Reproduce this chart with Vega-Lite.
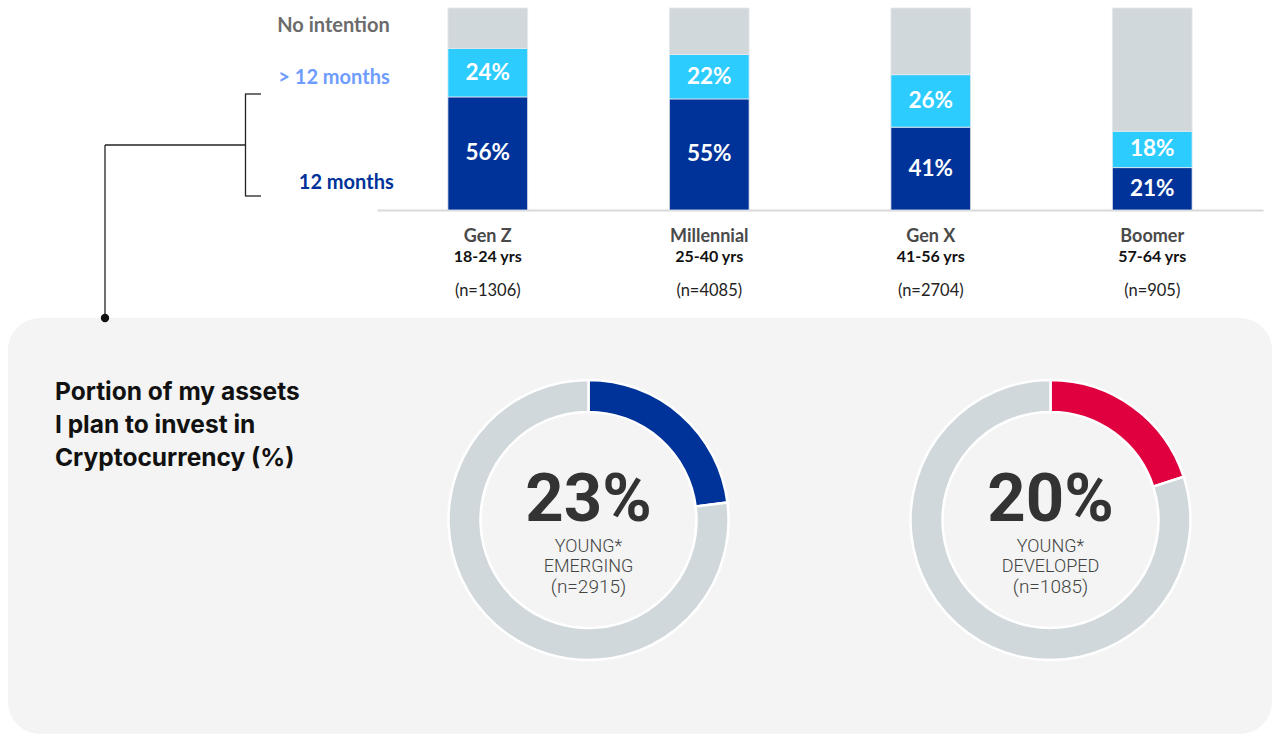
{
 "$schema": "https://vega.github.io/schema/vega-lite/v6.json",
 "width": 1273, "height": 735,
 "autosize": {"type": "fit", "contains": "padding"},
 "padding": 0,
 "background": "#ffffff",
 "config": {"view": {"stroke": null}, "font": "Lato"},
 "datasets": {
  "bars": [
   {"gen":"Gen Z","cat":"12 months","share":0.56,"order":1},
   {"gen":"Gen Z","cat":"> 12 months","share":0.24,"order":2},
   {"gen":"Gen Z","cat":"No intention","share":0.20,"order":3},
   {"gen":"Millennial","cat":"12 months","share":0.55,"order":1},
   {"gen":"Millennial","cat":"> 12 months","share":0.22,"order":2},
   {"gen":"Millennial","cat":"No intention","share":0.23,"order":3},
   {"gen":"Gen X","cat":"12 months","share":0.41,"order":1},
   {"gen":"Gen X","cat":"> 12 months","share":0.26,"order":2},
   {"gen":"Gen X","cat":"No intention","share":0.33,"order":3},
   {"gen":"Boomer","cat":"12 months","share":0.21,"order":1},
   {"gen":"Boomer","cat":"> 12 months","share":0.18,"order":2},
   {"gen":"Boomer","cat":"No intention","share":0.61,"order":3}
  ],
  "gens": [
   {"gen":"Gen Z","age":"18-24 yrs","n":"(n=1306)"},
   {"gen":"Millennial","age":"25-40 yrs","n":"(n=4085)"},
   {"gen":"Gen X","age":"41-56 yrs","n":"(n=2704)"},
   {"gen":"Boomer","age":"57-64 yrs","n":"(n=905)"}
  ],
  "donuts": [
   {"group":"Young Emerging","part":"emerging","share":0.23,"order":1},
   {"group":"Young Emerging","part":"rest","share":0.77,"order":2},
   {"group":"Young Developed","part":"developed","share":0.20,"order":1},
   {"group":"Young Developed","part":"rest","share":0.80,"order":2}
  ],
  "donutLabels": [
   {"group":"Young Emerging","kind":"YOUNG*","market":"EMERGING","n":"(n=2915)"},
   {"group":"Young Developed","kind":"YOUNG*","market":"DEVELOPED","n":"(n=1085)"}
  ]
 },
 "layer": [
  {
   "data": {"values": [{}]},
   "mark": {"type": "rect", "fill": "#f3f4f3", "cornerRadius": 32},
   "encoding": {"x": {"value": 8}, "x2": {"value": 1272}, "y": {"value": 318}, "y2": {"value": 734}}
  },
  {
   "data": {"name": "bars"},
   "encoding": {
    "x": {"field": "gen", "type": "nominal", "sort": ["Gen Z","Millennial","Gen X","Boomer"],
          "scale": {"range": [377, 1263], "paddingInner": 0.64, "paddingOuter": 0.32},
          "axis": {"title": null, "labels": false, "ticks": false, "grid": false, "domainColor": "#d9d9d9", "domainWidth": 2, "offset": -525}}
   },
   "layer": [
    {
     "mark": {"type": "bar", "stroke": "#e6e9ec", "strokeWidth": 0.8},
     "encoding": {
      "y": {"field": "share", "type": "quantitative", "stack": "zero", "scale": {"domain": [0, 1], "range": [210, 8]}, "axis": null},
      "color": {"field": "cat", "type": "nominal", "scale": {"domain": ["12 months","> 12 months","No intention"], "range": ["#003399","#2dccff","#d1d8dc"]}, "legend": null},
      "order": {"field": "order", "type": "quantitative"}
     }
    },
    {
     "transform": [
      {"filter": "datum.cat != 'No intention'"},
      {"stack": "share", "groupby": ["gen"], "sort": [{"field": "order", "order": "ascending"}], "as": ["y0", "y1"]},
      {"fold": ["y0", "y1"], "as": ["edge", "ypos"]},
      {"aggregate": [{"op": "mean", "field": "ypos", "as": "mid"}], "groupby": ["gen", "cat", "share"]}
     ],
     "mark": {"type": "text", "color": "#ffffff", "fontSize": 22.5, "fontWeight": "bold", "baseline": "middle"},
     "encoding": {
      "y": {"field": "mid", "type": "quantitative"},
      "text": {"field": "share", "type": "quantitative", "format": ".0%"}
     }
    },
    {
     "data": {"name": "gens"},
     "mark": {"type": "text", "fontSize": 18, "fontWeight": "bold", "color": "#4a4a4a", "baseline": "middle", "dy": 27},
     "encoding": {"y": {"datum": 0, "type": "quantitative"}, "text": {"field": "gen"}}
    },
    {
     "data": {"name": "gens"},
     "mark": {"type": "text", "fontSize": 16, "fontWeight": "bold", "color": "#111111", "baseline": "middle", "dy": 47},
     "encoding": {"y": {"datum": 0, "type": "quantitative"}, "text": {"field": "age"}}
    },
    {
     "data": {"name": "gens"},
     "mark": {"type": "text", "fontSize": 16.5, "fontWeight": "normal", "color": "#222222", "baseline": "middle", "dy": 81},
     "encoding": {"y": {"datum": 0, "type": "quantitative"}, "text": {"field": "n"}}
    },
    {
     "data": {"values": [{}]},
     "mark": {"type": "text", "text": "No intention", "align": "right", "baseline": "middle", "fontSize": 20, "fontWeight": "bold", "color": "#6b6b6b", "dx": -98},
     "encoding": {"x": {"datum": "Gen Z"}, "y": {"datum": 0.911, "type": "quantitative"}}
    },
    {
     "data": {"values": [{}]},
     "mark": {"type": "text", "text": "> 12 months", "align": "right", "baseline": "middle", "fontSize": 20, "fontWeight": "bold", "color": "#6e9cff", "dx": -98},
     "encoding": {"x": {"datum": "Gen Z"}, "y": {"datum": 0.653, "type": "quantitative"}}
    },
    {
     "data": {"values": [{}]},
     "mark": {"type": "text", "text": "12 months", "align": "right", "baseline": "middle", "fontSize": 20, "fontWeight": "bold", "color": "#003399", "dx": -94},
     "encoding": {"x": {"datum": "Gen Z"}, "y": {"datum": 0.134, "type": "quantitative"}}
    }
   ]
  },
  {
   "layer": [
    {
     "data": {"name": "donuts"},
     "transform": [{"stack": "share", "groupby": ["group"], "sort": [{"field": "order", "order": "ascending"}], "as": ["t0", "t1"]}],
     "mark": {"type": "arc", "outerRadius": 140, "innerRadius": 108, "stroke": "#ffffff", "strokeWidth": 2.5},
     "encoding": {
      "x": {"field": "group", "type": "nominal", "sort": ["Young Emerging","Young Developed"], "scale": {"type": "point", "range": [588.5, 1050.5], "padding": 0}, "axis": null},
      "y": {"value": 520},
      "theta": {"field": "t0", "type": "quantitative", "scale": {"domain": [0, 1]}},
      "theta2": {"field": "t1"},
      "color": {"field": "part", "type": "nominal", "scale": {"domain": ["emerging","developed","rest"], "range": ["#003399","#e1003f","#d1d8dc"]}, "legend": null}
     }
    },
    {
     "data": {"name": "donuts"},
     "transform": [{"filter": "datum.part != 'rest'"}],
     "mark": {"type": "text", "font": "Roboto", "fontSize": 67, "fontWeight": "bold", "color": "#333333", "baseline": "alphabetic"},
     "encoding": {
      "x": {"field": "group", "type": "nominal", "sort": ["Young Emerging","Young Developed"]},
      "y": {"value": 521},
      "text": {"field": "share", "type": "quantitative", "format": ".0%"}
     }
    },
    {
     "data": {"name": "donutLabels"},
     "mark": {"type": "text", "font": "Roboto", "fontSize": 18, "fontWeight": 300, "color": "#444444", "baseline": "alphabetic", "dy": 32},
     "encoding": {"x": {"field": "group", "type": "nominal", "sort": ["Young Emerging","Young Developed"]}, "y": {"value": 520}, "text": {"field": "kind"}}
    },
    {
     "data": {"name": "donutLabels"},
     "mark": {"type": "text", "font": "Roboto", "fontSize": 18, "fontWeight": 300, "color": "#444444", "baseline": "alphabetic", "dy": 52},
     "encoding": {"x": {"field": "group", "type": "nominal", "sort": ["Young Emerging","Young Developed"]}, "y": {"value": 520}, "text": {"field": "market"}}
    },
    {
     "data": {"name": "donutLabels"},
     "mark": {"type": "text", "font": "Roboto", "fontSize": 19, "fontWeight": 300, "color": "#444444", "baseline": "alphabetic", "dy": 73},
     "encoding": {"x": {"field": "group", "type": "nominal", "sort": ["Young Emerging","Young Developed"]}, "y": {"value": 520}, "text": {"field": "n"}}
    }
   ]
  },
  {
   "data": {"values": [{}]},
   "mark": {"type": "rule", "color": "#222222", "strokeWidth": 1.3},
   "encoding": {"x": {"value": 245.5}, "y": {"value": 94}, "y2": {"value": 196}}
  },
  {
   "data": {"values": [{}]},
   "mark": {"type": "rule", "color": "#222222", "strokeWidth": 1.3},
   "encoding": {"x": {"value": 245}, "x2": {"value": 261}, "y": {"value": 94}}
  },
  {
   "data": {"values": [{}]},
   "mark": {"type": "rule", "color": "#222222", "strokeWidth": 1.3},
   "encoding": {"x": {"value": 245}, "x2": {"value": 261}, "y": {"value": 196}}
  },
  {
   "data": {"values": [{}]},
   "mark": {"type": "rule", "color": "#222222", "strokeWidth": 1.3},
   "encoding": {"x": {"value": 105}, "x2": {"value": 245.5}, "y": {"value": 145}}
  },
  {
   "data": {"values": [{}]},
   "mark": {"type": "rule", "color": "#222222", "strokeWidth": 1.3},
   "encoding": {"x": {"value": 105}, "y": {"value": 145}, "y2": {"value": 318}}
  },
  {
   "data": {"values": [{}]},
   "mark": {"type": "point", "filled": true, "color": "#111111", "size": 70, "opacity": 1},
   "encoding": {"x": {"value": 105}, "y": {"value": 318}}
  },
  {
   "data": {"values": [{}]},
   "mark": {"type": "text", "text": ["Portion of my assets", "I plan to invest in", "Cryptocurrency (%)"], "font": "Inter", "fontSize": 24.5, "fontWeight": 700, "color": "#111111", "align": "left", "baseline": "alphabetic", "lineHeight": 33},
   "encoding": {"x": {"value": 55}, "y": {"value": 400}}
  }
 ],
 "resolve": {"scale": {"x": "independent", "y": "independent", "color": "independent", "theta": "independent"}}
}
